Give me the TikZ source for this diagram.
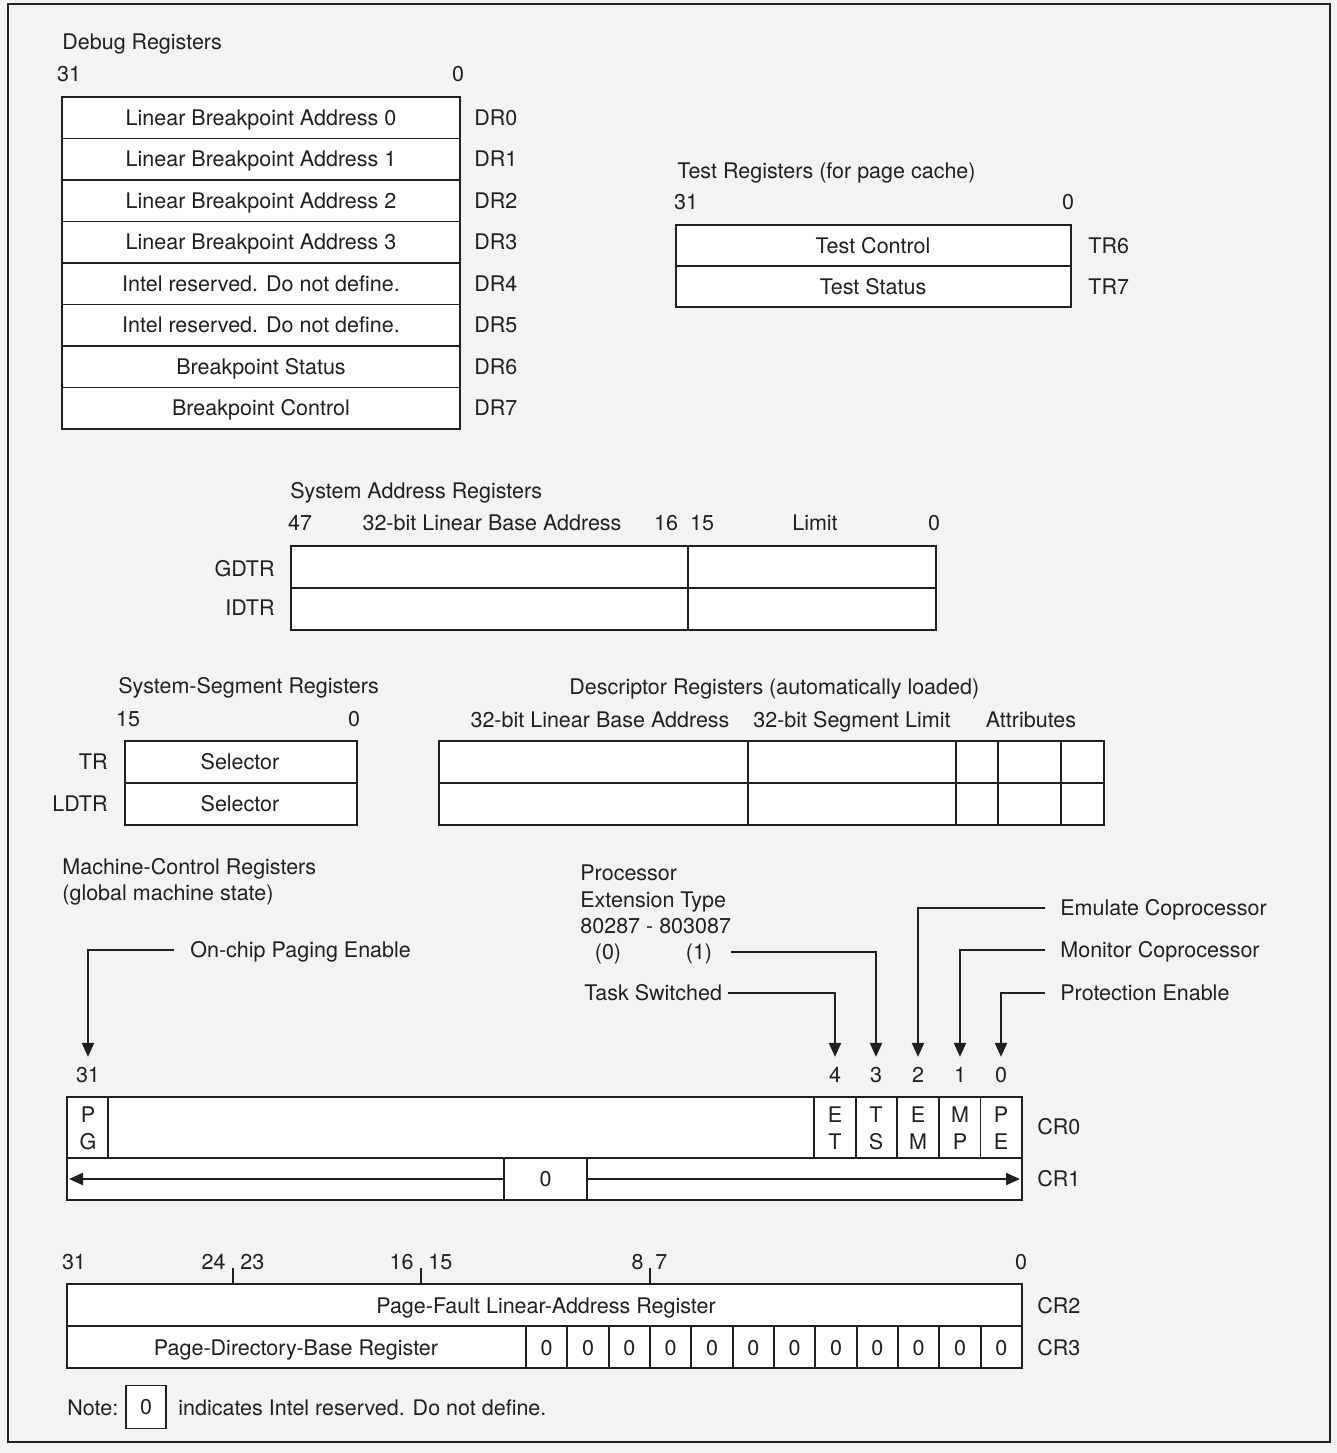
\documentclass[tikz,border=0pt]{standalone}
\usepackage{fontspec}
\setmainfont{TeX Gyre Heros}
\usetikzlibrary{arrows.meta}
\definecolor{paper}{RGB}{243,243,241}
\definecolor{ink}{RGB}{32,32,32}
\begin{document}
\begin{tikzpicture}[x=0.5pt,y=-0.5pt,
  every node/.style={text=ink, inner sep=0pt, text height=7.7pt, text depth=0pt, font=\fontsize{10.75}{13}\selectfont},
  box/.style={draw=ink, line width=1.3pt, fill=white},
  sep/.style={draw=ink, line width=0.9pt},
  lbl/.style={anchor=west},
  rlbl/.style={anchor=east},
  arr/.style={draw=ink, line width=1.1pt, -{Triangle[length=7pt,width=6pt]}},
  zbox/.style={draw=ink, line width=0.9pt, fill=white}
]
\fill[paper] (0,0) rectangle (1337,1453);
\useasboundingbox (0,0) rectangle (1337,1453);
\draw[ink, line width=1pt] (8,4) rectangle (1330,1442);

% ---------------- Debug registers
\node[lbl] (dbgtitle) at (62,42) {Debug Registers};
\node (dbg31) at (69,74) {31};
\node (dbg0) at (458,74) {0};
\draw[box] (62,97) rectangle (460,429);
\foreach \i in {1,...,7} \draw[sep] (62,{97+41.5*\i}) -- (460,{97+41.5*\i});
\foreach \t [count=\i from 0] in {Linear Breakpoint Address 0,Linear Breakpoint Address 1,Linear Breakpoint Address 2,Linear Breakpoint Address 3,Intel reserved. Do not define.,Intel reserved. Do not define.,Breakpoint Status,Breakpoint Control}{
  \node (dbgrow\i) at (261,{117.75+41.5*\i}) {\t};
  \node[lbl] (dr\i) at (474,{117.75+41.5*\i}) {DR\i};
}

% ---------------- Test registers
\node[lbl] (testtitle) at (677,171) {Test Registers (for page cache)};
\node (t31) at (686,202) {31};
\node (t0) at (1068,202) {0};
\draw[box] (676,225) rectangle (1071,307);
\draw[sep] (676,266) -- (1071,266);
\node (tctl) at (873,246) {Test Control};
\node (tst) at (873,287) {Test Status};
\node[lbl] (tr6) at (1088,246) {TR6};
\node[lbl] (tr7) at (1088,287) {TR7};

% ---------------- System address registers
\node[lbl] (sartitle) at (290,491) {System Address Registers};
\node (sa47) at (300,523) {47};
\node (sabase) at (492,523) {32-bit Linear Base Address};
\node (sa16) at (666,523) {16};
\node (sa15) at (702,523) {15};
\node (salimit) at (815,523) {Limit};
\node (sa0) at (934,523) {0};
\draw[box] (291,546) rectangle (936,630);
\draw[sep] (291,588) -- (936,588);
\draw[sep] (688,546) -- (688,630);
\node[rlbl] (gdtr) at (275,569) {GDTR};
\node[rlbl] (idtr) at (275,608) {IDTR};

% ---------------- System-segment registers
\node[lbl] (sstitle) at (118,686) {System-Segment Registers};
\node (ss15) at (128,719) {15};
\node (ss0) at (354,719) {0};
\draw[box] (125,741) rectangle (357,825);
\draw[sep] (125,783) -- (357,783);
\node (sel1) at (240,762) {Selector};
\node (sel2) at (240,804) {Selector};
\node[rlbl] (trl) at (108,762) {TR};
\node[rlbl] (ldtr) at (108,804) {LDTR};

% ---------------- Descriptor registers
\node[lbl] (desctitle) at (569,687) {Descriptor Registers (automatically loaded)};
\node (dbase) at (600,720) {32-bit Linear Base Address};
\node (dlim) at (852,720) {32-bit Segment Limit};
\node (dattr) at (1031,720) {Attributes};
\draw[box] (439,741) rectangle (1104,825);
\draw[sep] (439,783) -- (1104,783);
\foreach \x in {748,956,998,1061} \draw[sep] (\x,741) -- (\x,825);

% ---------------- Machine control registers
\node[lbl] (mctitle) at (62,867) {Machine-Control Registers};
\node[lbl] (mcsub) at (62,893) {(global machine state)};
\node[lbl] (proc1) at (580,873) {Processor};
\node[lbl] (proc2) at (580,900) {Extension Type};
\node[lbl] (proc3) at (580,926) {80287 - 803087};
\node (p0) at (608,952) {(0)};
\node (p1) at (699,952) {(1)};
\node[lbl] (tsw) at (584,993) {Task Switched};
\node[lbl] (pge) at (190,950) {On-chip Paging Enable};
\node[lbl] (emu) at (1060,908) {Emulate Coprocessor};
\node[lbl] (mon) at (1060,950) {Monitor Coprocessor};
\node[lbl] (pen) at (1060,993) {Protection Enable};

\node (b31) at (88,1075) {31};
\node (b4) at (835,1075) {4};
\node (b3) at (876,1075) {3};
\node (b2) at (918,1075) {2};
\node (b1) at (960,1075) {1};
\node (b0) at (1001,1075) {0};

\draw[arr] ([xshift=-8pt]pge.west) -| ([yshift=5pt]b31.north);
\draw[arr] ([xshift=9pt]p1.east) -| ([yshift=5pt]b3.north);
\draw[arr] ([xshift=3pt]tsw.east) -| ([yshift=5pt]b4.north);
\draw[arr] ([xshift=-7.5pt]emu.west) -| ([yshift=5pt]b2.north);
\draw[arr] ([xshift=-7.5pt]mon.west) -| ([yshift=5pt]b1.north);
\draw[arr] ([xshift=-7.5pt]pen.west) -| ([yshift=5pt]b0.north);

% CR0 / CR1
\draw[box] (67,1097) rectangle (1022,1200);
\draw[sep] (67,1158) -- (1022,1158);
\draw[sep] (108,1097) -- (108,1158);
\foreach \x in {814,855.6,897.2,938.8,980.4} \draw[sep] (\x,1097) -- (\x,1158);
\node (pgP) at (88,1115) {P};
\node (pgG) at (88,1142) {G};
\foreach \a/\b/\x [count=\k] in {E/T/835,T/S/876,E/M/918,M/P/960,P/E/1001}{
  \node (fa\k) at (\x,1115) {\a};
  \node (fb\k) at (\x,1142) {\b};
}
\node[lbl] (cr0) at (1037,1127) {CR0};

\node[zbox, minimum width=41.5pt, minimum height=21pt] (cr1z) at (545.5,1179) {0};
\coordinate (cr1l) at (69,1179);
\coordinate (cr1r) at (1020,1179);
\draw[arr] (cr1z.west) -- (cr1l);
\draw[arr] (cr1z.east) -- (cr1r);
\node[lbl] (cr1) at (1037,1179) {CR1};

% CR2 / CR3
\node (c31) at (74,1262) {31};
\node[anchor=east] (c24) at (226,1262) {24};
\node[anchor=west] (c23) at (240,1262) {23};
\node[anchor=east] (c16) at (414,1262) {16};
\node[anchor=west] (c15) at (428,1262) {15};
\node[anchor=east] (c8) at (644,1262) {8};
\node[anchor=west] (c7) at (655,1262) {7};
\node (c0) at (1021,1262) {0};
\draw[box] (67,1284) rectangle (1022,1368);
\foreach \x in {233,421,650} \draw[sep] (\x,1284) -- (\x,1268);
\draw[sep] (67,1326) -- (1022,1326);
\draw[sep] (526,1326) -- (526,1368);
\foreach \i in {1,...,11} \draw[sep] ({526+41.333*\i},1326) -- ({526+41.333*\i},1368);
\foreach \i in {0,...,11} \node (z\i) at ({526+41.333*(\i+0.5)},1348) {0};
\node (pflar) at (546,1306) {Page-Fault Linear-Address Register};
\node (pdbr) at (296,1348) {Page-Directory-Base Register};
\node[lbl] (cr2) at (1037,1306) {CR2};
\node[lbl] (cr3) at (1037,1348) {CR3};

% Note
\node[lbl] (note) at (67,1408) {Note:};
\node[zbox, minimum width=20pt, minimum height=21.5pt] (notebox) at (146,1407) {0};
\node[lbl] (notetxt) at (178,1408) {indicates Intel reserved. Do not define.};
\end{tikzpicture}
\end{document}
